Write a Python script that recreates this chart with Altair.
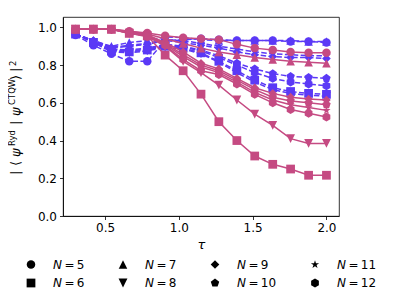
import altair as alt
import pandas as pd

# ---------------- data ----------------
tau = [0.3, 0.421, 0.543, 0.664, 0.786, 0.907, 1.029, 1.15,
       1.271, 1.393, 1.514, 1.636, 1.757, 1.879, 2.0]

N_values = ["5", "6", "7", "8", "9", "10", "11", "12"]

# solid (pink) curves
solid_5 = [0.99, 0.99, 0.99, 0.98, 0.97, 0.955, 0.945, 0.94, 0.935, 0.91, 0.89, 0.88, 0.87, 0.865, 0.865]
solid_6 = [0.99, 0.99, 0.99, 0.968, 0.955, 0.853, 0.77, 0.646, 0.50, 0.40, 0.318, 0.274, 0.249, 0.216, 0.216]
solid_7 = [0.99, 0.99, 0.99, 0.98, 0.965, 0.94, 0.915, 0.89, 0.87, 0.855, 0.84, 0.83, 0.82, 0.815, 0.81]
solid_8 = [0.99, 0.99, 0.99, 0.97, 0.955, 0.90, 0.82, 0.76, 0.694, 0.615, 0.54, 0.48, 0.41, 0.385, 0.385]
solid_9 = [0.99, 0.99, 0.99, 0.975, 0.96, 0.92, 0.87, 0.81, 0.78, 0.73, 0.68, 0.65, 0.63, 0.62, 0.615]
solid_10 = [0.99, 0.99, 0.99, 0.975, 0.96, 0.915, 0.855, 0.80, 0.77, 0.72, 0.67, 0.63, 0.61, 0.60, 0.59]
solid_11 = [0.99, 0.99, 0.99, 0.97, 0.955, 0.91, 0.845, 0.79, 0.76, 0.71, 0.655, 0.615, 0.59, 0.575, 0.56]
solid_12 = [0.99, 0.99, 0.99, 0.97, 0.95, 0.905, 0.83, 0.77, 0.75, 0.70, 0.645, 0.60, 0.565, 0.545, 0.525]

# dashed (blue) curves
dashed_5 = [0.96, 0.905, 0.86, 0.82, 0.82, 0.93, 0.935, 0.94, 0.935, 0.93, 0.93, 0.93, 0.925, 0.925, 0.92]
dashed_6 = [0.965, 0.92, 0.875, 0.87, 0.88, 0.90, 0.89, 0.865, 0.82, 0.77, 0.72, 0.68, 0.66, 0.65, 0.645]
dashed_7 = [0.965, 0.93, 0.90, 0.92, 0.93, 0.95, 0.945, 0.935, 0.93, 0.93, 0.93, 0.93, 0.93, 0.925, 0.925]
dashed_8 = [0.965, 0.92, 0.87, 0.865, 0.875, 0.895, 0.885, 0.86, 0.815, 0.76, 0.71, 0.67, 0.65, 0.64, 0.635]
dashed_9 = [0.965, 0.93, 0.89, 0.90, 0.91, 0.93, 0.92, 0.905, 0.89, 0.87, 0.855, 0.845, 0.84, 0.84, 0.835]
dashed_10 = [0.965, 0.925, 0.885, 0.88, 0.89, 0.91, 0.90, 0.88, 0.85, 0.81, 0.78, 0.755, 0.74, 0.735, 0.73]
dashed_11 = [0.965, 0.93, 0.895, 0.905, 0.915, 0.935, 0.93, 0.915, 0.90, 0.885, 0.87, 0.86, 0.855, 0.85, 0.85]
dashed_12 = [0.965, 0.925, 0.88, 0.875, 0.885, 0.905, 0.895, 0.875, 0.84, 0.80, 0.76, 0.73, 0.71, 0.70, 0.69]

solid = [solid_5, solid_6, solid_7, solid_8, solid_9, solid_10, solid_11, solid_12]
dashed = [dashed_5, dashed_6, dashed_7, dashed_8, dashed_9, dashed_10, dashed_11, dashed_12]

x_ticks = [0.5, 1.0, 1.5, 2.0]
y_ticks = [0.0, 0.2, 0.4, 0.6, 0.8, 1.0]

# ---------------- styling ----------------
BLUE = "#5b39f6"
PINK = "#c54a82"
FONT = "DejaVu Sans"

STAR = "M0,-1L0.2245,-0.309L0.951,-0.309L0.363,0.118L0.588,0.809L0,0.382L-0.588,0.809L-0.363,0.118L-0.951,-0.309L-0.2245,-0.309Z"
PENTAGON = "M0,-1L0.951,-0.309L0.588,0.809L-0.588,0.809L-0.951,-0.309Z"
HEXAGON = "M0,-1L0.866,-0.5L0.866,0.5L0,1L-0.866,0.5L-0.866,-0.5Z"
TRI_UP = "M0,-1L1,1L-1,1Z"
TRI_DOWN = "M0,1L1,-1L-1,-1Z"
DIAMOND = "M0,-1L1,0L0,1L-1,0Z"

legend_order = ["5", "7", "9", "11", "6", "8", "10", "12"]
shape_range = ["circle", TRI_UP, DIAMOND, STAR, "square", TRI_DOWN, PENTAGON, HEXAGON]
size_range = [72, 80, 125, 75, 66, 80, 75, 75]

rows = []
for n, s_vals, d_vals in zip(N_values, solid, dashed):
    for t, v in zip(tau, s_vals):
        rows.append({"tau": t, "value": v, "N": n, "kind": "solid"})
    for t, v in zip(tau, d_vals):
        rows.append({"tau": t, "value": v, "N": n, "kind": "dashed"})
df = pd.DataFrame(rows)

x_enc = alt.X("tau:Q", scale=alt.Scale(domain=[0.215, 2.085], nice=False, zero=False),
              axis=alt.Axis(values=x_ticks, format=".1f", title="τ",
                            titleFontStyle="italic", titleFontSize=13, titleFontWeight="normal",
                            titlePadding=5))
y_enc = alt.Y("value:Q", scale=alt.Scale(domain=[0, 1.055], nice=False),
              axis=alt.Axis(values=y_ticks, format=".1f", title=""))
color_enc = alt.Color("kind:N", scale=alt.Scale(domain=["dashed", "solid"], range=[BLUE, PINK]),
                      legend=None)

leg = alt.Legend(orient="none", legendX=-38, legendY=241.5, columns=4, direction="horizontal",
                 symbolFillColor="black", symbolStrokeWidth=0, symbolOpacity=1,
                 labelExpr="'𝘕\u2009=\u2009' + datum.label", labelFont=FONT,
                 labelFontSize=12, labelColor="black", labelOffset=16, columnPadding=32,
                 rowPadding=6.5, padding=0)
shape_enc = alt.Shape("N:N", scale=alt.Scale(domain=legend_order, range=shape_range),
                      legend=leg, title=None)
size_enc = alt.Size("N:N", scale=alt.Scale(domain=legend_order, range=size_range),
                    legend=leg, title=None)

base = alt.Chart(df)

blue_lines = base.transform_filter(alt.datum.kind == "dashed").mark_line(
    strokeWidth=1.5, strokeDash=[5.5, 2.4]).encode(x=x_enc, y=y_enc, color=color_enc, detail="N:N")
blue_pts = base.transform_filter(alt.datum.kind == "dashed").mark_point(
    filled=True, opacity=1).encode(x=x_enc, y=y_enc, color=color_enc, shape=shape_enc, size=size_enc)
pink_lines = base.transform_filter(alt.datum.kind == "solid").mark_line(
    strokeWidth=1.5).encode(x=x_enc, y=y_enc, color=color_enc, detail="N:N")
pink_pts = base.transform_filter(alt.datum.kind == "solid").mark_point(
    filled=True, opacity=1).encode(x=x_enc, y=y_enc, color=color_enc, shape=shape_enc, size=size_enc)

# y-axis title built from pieces (text, font size, baseline offset, start position)
title_pieces = [
    ("|", 13, -43.5, 158), ("⟨", 13, -43.5, 149), ("ψ", 13, -43.5, 140),
    ("Ryd", 8.5, -48.5, 129), ("|", 13, -43.5, 108), ("ψ", 13, -43.5, 99),
    ("CTQW", 8.5, -48.5, 88), ("⟩", 13, -43.5, 63), ("|", 13, -43.5, 55), ("2", 8.5, -47.5, 49),
]
title_layers = []
for txt, fs, px, py in title_pieces:
    style = "italic" if txt == "ψ" else "normal"
    title_layers.append(
        alt.Chart(alt.Data(values=[{"t": txt}])).mark_text(
            angle=270, align="left", baseline="alphabetic", font=FONT, fontSize=fs,
            fontStyle=style, color="black"
        ).encode(text="t:N", x=alt.value(px), y=alt.value(py))
    )

chart = alt.layer(blue_lines, blue_pts, pink_lines, pink_pts, *title_layers).properties(
    width=276, height=199,
    autosize=alt.AutoSizeParams(type="none"),
    padding={"left": 55, "top": 9, "right": 49, "bottom": 82},
).configure_axis(
    grid=False, domainColor="black", tickColor="black", labelColor="black",
    labelFont=FONT, labelFontSize=12, tickSize=3.5, domainWidth=0.8, tickWidth=0.8,
    labelPadding=3, titleFont=FONT, titleColor="black",
).configure_view(stroke="black", strokeWidth=0.8)

chart.save("out.html", embed_options={"renderer": "svg", "actions": False})
